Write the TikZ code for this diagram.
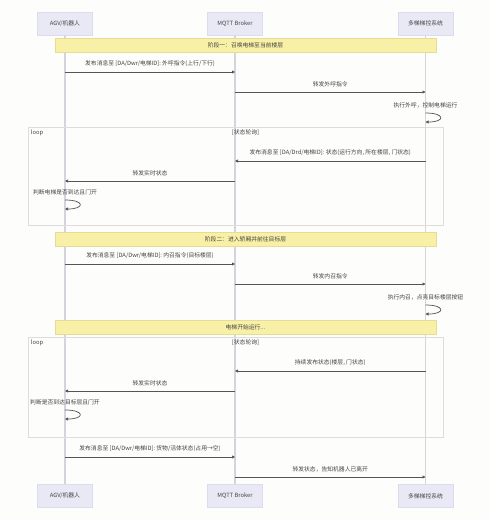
\documentclass[tikz,border=0pt]{standalone}
\usepackage{fontspec}
\newfontfamily\cjk{Noto Sans CJK SC}
\usetikzlibrary{arrows.meta,calc}

\definecolor{pagebg}{HTML}{FDFDFB}
\definecolor{actorfill}{HTML}{E9E9F6}
\definecolor{actorline}{HTML}{DCDCEE}
\definecolor{lifeline}{HTML}{D4D4DE}
\definecolor{arrowgray}{HTML}{555555}
\definecolor{notefill}{HTML}{F8F0A6}
\definecolor{noteline}{HTML}{E6DC96}
\definecolor{loopline}{HTML}{DDDDDD}
\definecolor{txtgray}{HTML}{444444}

\tikzset{
  actor/.style={draw=actorline, fill=actorfill, minimum width=55pt, minimum height=23pt, inner sep=0pt},
  life/.style={draw=lifeline, line width=1.4pt},
  msg/.style={draw=arrowgray, line width=0.7pt, -{Triangle[length=3pt,width=3pt]}},
  lbl/.style={above=5pt, inner sep=0pt},
  note/.style={draw=noteline, fill=notefill, minimum width=381pt, minimum height=14pt, inner sep=0pt},
  loopbox/.style={draw=loopline, line width=0.6pt, minimum width=415pt, inner sep=0pt}
}

\begin{document}
\begin{tikzpicture}[x=1pt, y=-1pt, text=txtgray, font=\cjk\fontsize{5.8}{7}\selectfont]

\fill[pagebg] (0,0) rectangle (490,520);
\useasboundingbox (0,0) rectangle (490,520);

% participants, top and bottom
\node[actor] (agv)  at (65,23.5)  {AGV/机器人};
\node[actor] (mqtt) at (235,23.5) {MQTT Broker};
\node[actor] (lift) at (425.5,23.5) {多梯梯控系统};
\node[actor] (agvb)  at (65,496)  {AGV/机器人};
\node[actor] (mqttb) at (235,496) {MQTT Broker};
\node[actor] (liftb) at (425.5,496) {多梯梯控系统};

\draw[life] (agv) -- (agvb);
\draw[life] (mqtt) -- (mqttb);
\draw[life] (lift) -- (liftb);

% loop frames
\node[loopbox, minimum height=98pt] (lp1) at (235.5,176) {};
\node[anchor=north west, inner sep=0pt] (lp1a) at ($(lp1.north west)+(3,2.5)$) {loop};
\node[anchor=north, inner sep=0pt] (lp1b) at ($(lp1.north)+(10,2.5)$) {[状态轮询]};
\node[loopbox, minimum height=100pt] (lp2) at (235.5,387) {};
\node[anchor=north west, inner sep=0pt] (lp2a) at ($(lp2.north west)+(3,2.5)$) {loop};
\node[anchor=north, inner sep=0pt] (lp2b) at ($(lp2.north)+(10,2.5)$) {[状态轮询]};

% notes
\node[note] (n1) at (245.5,45)  {阶段一：召唤电梯至当前楼层};
\node[note] (n2) at (245.5,239) {阶段二：进入轿厢并前往目标层};
\node[note] (n3) at (245.5,327) {电梯开始运行...};

% message rows
\coordinate (r1) at (0,72);
\coordinate (r2) at (0,92);
\coordinate (r3) at (0,161);
\coordinate (r4) at (0,181);
\coordinate (r5) at (0,264);
\coordinate (r6) at (0,284);
\coordinate (r7) at (0,371);
\coordinate (r8) at (0,391);
\coordinate (r9) at (0,457);
\coordinate (r10) at (0,477);

\draw[msg] (agv |- r1) -- node[lbl] (t1) {发布消息至 [DA/Dwr/电梯ID]: 外呼指令(上行/下行)} (mqtt |- r1);
\draw[msg] (mqtt |- r2) -- node[lbl] (t2) {转发外呼指令} (lift |- r2);
\draw[msg] (lift |- r3) -- node[lbl] (t3) {发布消息至 [DA/Drd/电梯ID]: 状态(运行方向, 所在楼层, 门状态)} (mqtt |- r3);
\draw[msg] (mqtt |- r4) -- node[lbl] (t4) {转发实时状态} (agv |- r4);
\draw[msg] (agv |- r5) -- node[lbl] (t5) {发布消息至 [DA/Dwr/电梯ID]: 内召指令(目标楼层)} (mqtt |- r5);
\draw[msg] (mqtt |- r6) -- node[lbl] (t6) {转发内召指令} (lift |- r6);
\draw[msg] (lift |- r7) -- node[lbl] (t7) {持续发布状态(楼层, 门状态)} (mqtt |- r7);
\draw[msg] (mqtt |- r8) -- node[lbl] (t8) {转发实时状态} (agv |- r8);
\draw[msg] (agv |- r9) -- node[lbl] (t9) {发布消息至 [DA/Dwr/电梯ID]: 货物/活体状态(占用→空)} (mqtt |- r9);
\draw[msg] (mqtt |- r10) -- node[lbl] (t10) {转发状态，告知机器人已离开} (lift |- r10);

% self messages
\coordinate (s1) at (0,113);
\coordinate (s2) at (0,200);
\coordinate (s3) at (0,305);
\coordinate (s4) at (0,410);

\node[lbl] (u1) at (lift |- s1) {执行外呼，控制电梯运行};
\draw[msg] (lift |- s1) .. controls +(20,0) and +(20,0) .. ($(lift |- s1)+(0,9)$);
\node[lbl] (u2) at (agv |- s2) {判断电梯是否到达且门开};
\draw[msg] (agv |- s2) .. controls +(20,0) and +(20,0) .. ($(agv |- s2)+(0,9)$);
\node[lbl] (u3) at (lift |- s3) {执行内召，点亮目标楼层按钮};
\draw[msg] (lift |- s3) .. controls +(20,0) and +(20,0) .. ($(lift |- s3)+(0,9)$);
\node[lbl] (u4) at (agv |- s4) {判断是否到达目标层且门开};
\draw[msg] (agv |- s4) .. controls +(20,0) and +(20,0) .. ($(agv |- s4)+(0,9)$);

\end{tikzpicture}
\end{document}
